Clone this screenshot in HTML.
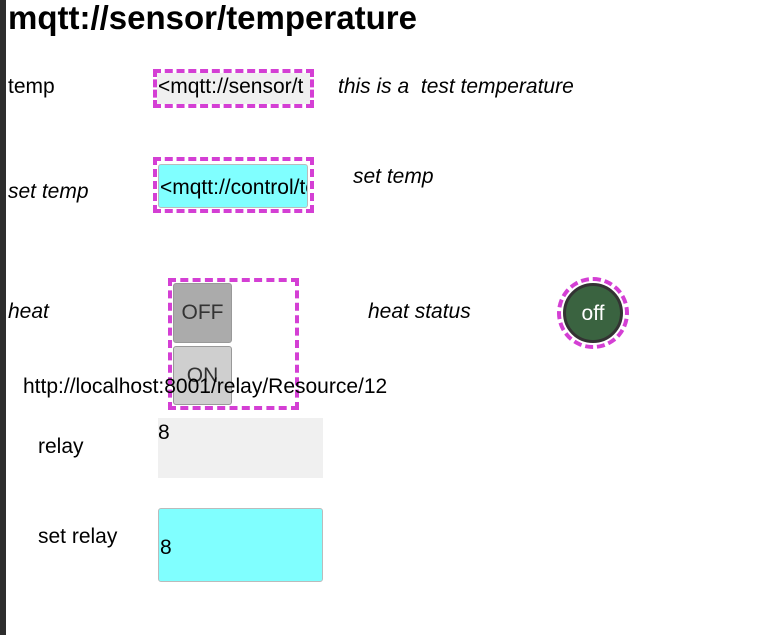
<!DOCTYPE html>
<html><head><style>
body{margin:0;width:762px;height:635px;background:#fff;position:relative;overflow:hidden;font-family:"Liberation Sans",sans-serif;}
.a{position:absolute;white-space:nowrap;}
.t{font-size:21px;color:#000;}
.i{font-style:italic;}
.dash{position:absolute;border:4px dashed #d43fd4;box-sizing:border-box;}
.btn{position:absolute;box-sizing:border-box;border:1px solid #999;border-radius:3px;font-size:21px;color:#333;text-align:center;}
</style></head><body>
<div class="a" style="left:0;top:0;width:6px;height:635px;background:#2d2d2d"></div>
<div class="a" style="left:8px;top:-1px;font-size:33px;font-weight:bold;">mqtt://sensor/temperature</div>
<div class="a t" style="left:8px;top:75px">temp</div>
<div class="dash" style="left:153px;top:69px;width:161px;height:39px;background:#f0f0f0;background-clip:padding-box"></div>
<div class="a t" style="left:158px;top:75px;width:146px;overflow:hidden">&lt;mqtt://sensor/temperature&gt;</div>
<div class="a t i" style="left:338px;top:75px">this is a&nbsp; test temperature</div>
<div class="a t i" style="left:8px;top:180px">set temp</div>
<div class="dash" style="left:153px;top:157px;width:161px;height:56px"></div>
<div class="a" style="left:158px;top:164px;width:150px;height:44px;background:#80ffff;border:1px solid #bbb;border-radius:3px;box-sizing:border-box"></div>
<div class="a t" style="left:160px;top:176px;width:147px;overflow:hidden">&lt;mqtt://control/temperature&gt;</div>
<div class="a t i" style="left:353px;top:165px">set temp</div>
<div class="a t i" style="left:8px;top:300px">heat</div>
<div class="dash" style="left:168px;top:278px;width:131px;height:132px"></div>
<div class="btn" style="left:173px;top:283px;width:59px;height:60px;background:#ababab;line-height:58px">OFF</div>
<div class="btn" style="left:173px;top:346px;width:59px;height:59px;background:#cfcfcf;line-height:58px">ON</div>
<div class="a t i" style="left:368px;top:300px">heat status</div>
<div class="a" style="left:557px;top:277px;width:72px;height:72px;box-sizing:border-box;border:4px dashed #d43fd4;border-radius:50%"></div>
<div class="a" style="left:563px;top:283px;width:60px;height:60px;box-sizing:border-box;border:3px solid #333;border-radius:50%;background:#3a6340;color:#fff;font-size:21px;text-align:center;line-height:56px">off</div>
<div class="a t" style="left:23px;top:375px">http://localhost:8001/relay/Resource/12</div>
<div class="a t" style="left:38px;top:435px">relay</div>
<div class="a" style="left:158px;top:418px;width:165px;height:60px;background:#f0f0f0"></div>
<div class="a t" style="left:158px;top:421px">8</div>
<div class="a t" style="left:38px;top:525px">set relay</div>
<div class="a" style="left:158px;top:508px;width:165px;height:74px;background:#80ffff;border:1px solid #bbb;border-radius:3px;box-sizing:border-box"></div>
<div class="a t" style="left:160px;top:536px">8</div>
</body></html>
